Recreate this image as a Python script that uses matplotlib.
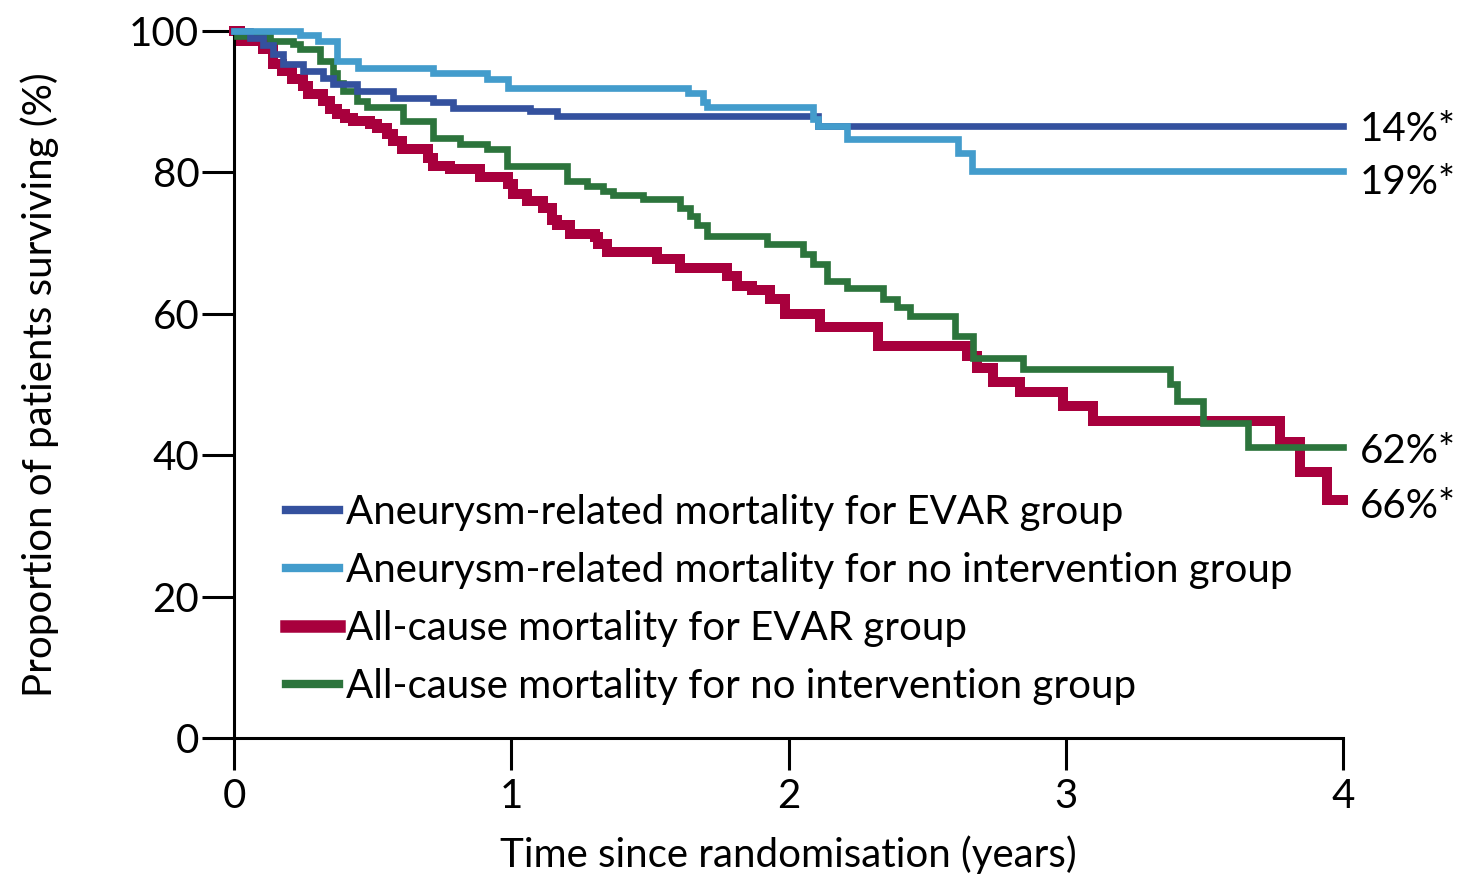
import matplotlib
matplotlib.use("Agg")
import matplotlib.pyplot as plt

plt.rcParams['font.family'] = ['Lato', 'DejaVu Sans']

# Kaplan-Meier step data (years, % surviving)
t_evar_all = [0, 0.022, 0.105, 0.141, 0.173, 0.209, 0.249, 0.267, 0.321, 0.346,
              0.372, 0.400, 0.429, 0.491, 0.516, 0.552, 0.573, 0.606, 0.700, 0.718,
              0.779, 0.887, 0.988, 1.006, 1.057, 1.115, 1.147, 1.165, 1.212, 1.302,
              1.313, 1.345, 1.526, 1.609, 1.778, 1.814, 1.868, 1.933, 1.987, 2.114,
              2.323, 2.644, 2.680, 2.738, 2.835, 2.990, 3.098, 3.773, 3.845, 3.942, 4.0]
s_evar_all = [100, 98.6, 97.5, 95.3, 94.4, 93.2, 92.2, 91.1, 90.1, 89.0,
              88.3, 87.7, 87.3, 86.9, 86.3, 85.5, 84.5, 83.3, 82.1, 80.9,
              80.5, 79.4, 78.4, 77.0, 76.0, 75.0, 73.2, 72.5, 71.3, 70.8,
              69.9, 68.8, 67.8, 66.5, 65.4, 64.0, 63.3, 62.1, 60.0, 58.1,
              55.5, 54.1, 52.4, 50.3, 48.9, 47.0, 44.8, 41.8, 37.6, 33.6, 33.6]

t_noint_all = [0, 0.011, 0.130, 0.213, 0.238, 0.310, 0.357, 0.372, 0.393, 0.444,
               0.480, 0.610, 0.718, 0.815, 0.913, 0.985, 1.201, 1.273, 1.331, 1.367,
               1.475, 1.609, 1.645, 1.670, 1.706, 1.922, 2.052, 2.088, 2.139, 2.211,
               2.341, 2.391, 2.438, 2.600, 2.665, 2.846, 3.376, 3.401, 3.495, 3.657, 4.0]
s_noint_all = [100, 99.3, 98.6, 98.2, 97.4, 95.8, 94.0, 92.7, 91.5, 90.1,
               89.2, 87.3, 84.9, 84.0, 83.3, 80.9, 78.8, 78.1, 77.4, 76.8,
               76.3, 75.0, 73.8, 72.6, 71.0, 69.9, 68.5, 67.1, 64.7, 63.6,
               62.1, 60.9, 59.7, 56.8, 53.8, 52.2, 50.1, 47.7, 44.5, 41.1, 41.1]

t_evar_aaa = [0, 0.058, 0.105, 0.141, 0.177, 0.249, 0.321, 0.357, 0.444, 0.573,
              0.718, 0.790, 1.068, 1.165, 2.106, 4.0]
s_evar_aaa = [100, 99.0, 98.0, 96.7, 95.3, 94.4, 93.4, 92.5, 91.5, 90.5,
              90.0, 89.1, 88.7, 88.0, 86.6, 86.6]

t_noint_aaa = [0, 0.238, 0.303, 0.372, 0.447, 0.718, 0.913, 0.988, 1.638, 1.692,
               1.706, 2.088, 2.106, 2.211, 2.611, 2.662, 4.0]
s_noint_aaa = [100, 99.4, 98.6, 95.8, 94.8, 94.1, 93.2, 92.0, 91.2, 90.0,
               89.2, 87.6, 86.6, 84.7, 82.8, 80.2, 80.2]

legend_labels = ["Aneurysm-related mortality for EVAR group",
                 "Aneurysm-related mortality for no intervention group",
                 "All-cause mortality for EVAR group",
                 "All-cause mortality for no intervention group"]
end_labels = ["14%*", "19%*", "66%*", "62%*"]

c_dblue = '#34519e'
c_lblue = '#439ccc'
c_red = '#a8003d'
c_green = '#2c743c'

fs = 29

fig = plt.figure(figsize=(14.67, 8.74), dpi=100)
ax = fig.add_axes([234/1467, 1 - 738/874, 1109/1467, 707/874])

l_red, = ax.step(t_evar_all, s_evar_all, where='post', color=c_red, lw=7.2,
                 solid_joinstyle='miter', clip_on=False, zorder=2)
l_green, = ax.step(t_noint_all, s_noint_all, where='post', color=c_green, lw=4.8,
                   solid_joinstyle='miter', clip_on=False, zorder=3)
l_dblue, = ax.step(t_evar_aaa, s_evar_aaa, where='post', color=c_dblue, lw=4.8,
                   solid_joinstyle='miter', clip_on=False, zorder=4)
l_lblue, = ax.step(t_noint_aaa, s_noint_aaa, where='post', color=c_lblue, lw=4.8,
                   solid_joinstyle='miter', clip_on=False, zorder=5)

ax.set_xlim(0, 4)
ax.set_ylim(0, 100)
ax.set_xticks([0, 1, 2, 3, 4])
ax.set_yticks([0, 20, 40, 60, 80, 100])

for s in ['top', 'right']:
    ax.spines[s].set_visible(False)
for s in ['left', 'bottom']:
    ax.spines[s].set_linewidth(2.2)
ax.tick_params(axis='both', direction='out', length=23, width=2.2,
               labelsize=fs, colors='black')
ax.tick_params(axis='y', pad=2)
ax.tick_params(axis='x', pad=6)

ax.set_xlabel("Time since randomisation (years)", fontsize=fs)
ax.set_ylabel("Proportion of patients surviving (%)", fontsize=fs)
ax.xaxis.set_label_coords(0.5, -0.137)
ax.yaxis.set_label_coords(-0.158, 0.5)

# labels at end of curves
ends = [(s_evar_aaa[-1], -3), (s_noint_aaa[-1], -8), (s_evar_all[-1], -4), (s_noint_all[-1], -3)]
for txt, (yv, off) in zip(end_labels, ends):
    ax.annotate(txt, xy=(4.0, yv), xytext=(12, off), textcoords='offset points',
                ha='left', va='center', fontsize=fs, annotation_clip=False)

leg = ax.legend([l_dblue, l_lblue, l_red, l_green], legend_labels,
                loc='upper left', bbox_to_anchor=(0.047, 0.345), frameon=False,
                fontsize=fs, handlelength=1.32, handletextpad=0.17,
                labelspacing=0.52, borderpad=0, borderaxespad=0)
for h in leg.get_lines():
    h.set_linewidth(h.get_linewidth() * 1.25)

fig.savefig("out.png", dpi=100)
